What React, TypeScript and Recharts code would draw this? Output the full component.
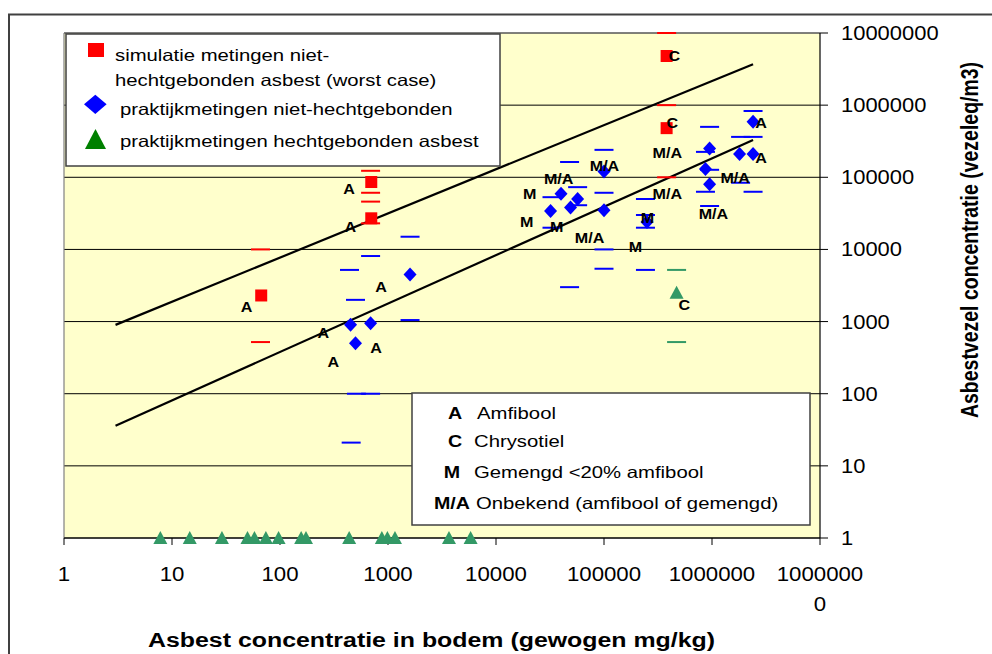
import React from 'react'
import {
    CartesianGrid,
    ReferenceLine,
    Scatter,
    ScatterChart,
    XAxis,
    YAxis,
} from 'recharts'

const FONT = '"Liberation Sans", Arial, sans-serif'

const decadeTicks = [1, 10, 100, 1000, 10000, 100000, 1000000, 10000000]

// simulatie metingen niet-hechtgebonden asbest (worst case)
const simulatie = [
    { x: 67, y: 2300 },
    { x: 700, y: 86000 },
    { x: 700, y: 27000 },
    { x: 380000, y: 4800000 },
    { x: 380000, y: 480000 },
]
const simulatieRange = [
    { x: 66, y: 10000 },
    { x: 66, y: 520 },
    { x: 690, y: 123000 },
    { x: 690, y: 61000 },
    { x: 690, y: 46000 },
    { x: 690, y: 23000 },
    { x: 380000, y: 10000000 },
    { x: 380000, y: 1000000 },
    { x: 380000, y: 100000 },
]

// praktijkmetingen niet-hechtgebonden
const praktijkNiet = [
    { x: 450, y: 900 },
    { x: 690, y: 950 },
    { x: 500, y: 500 },
    { x: 1600, y: 4500 },
    { x: 40000, y: 59000 },
    { x: 32000, y: 34000 },
    { x: 49000, y: 38000 },
    { x: 57000, y: 50000 },
    { x: 100000, y: 120000 },
    { x: 100000, y: 35000 },
    { x: 250000, y: 24000 },
    { x: 950000, y: 250000 },
    { x: 870000, y: 130000 },
    { x: 950000, y: 80000 },
    { x: 2400000, y: 590000 },
    { x: 1800000, y: 210000 },
    { x: 2400000, y: 210000 },
]
const praktijkNietRange = [
    { x: 440, y: 5200 },
    { x: 500, y: 2000 },
    { x: 690, y: 8100 },
    { x: 510, y: 100 },
    { x: 690, y: 100 },
    { x: 456, y: 21 },
    { x: 1600, y: 15000 },
    { x: 1600, y: 1050 },
    { x: 48000, y: 163000 },
    { x: 48000, y: 3000 },
    { x: 33000, y: 53000 },
    { x: 33000, y: 20000 },
    { x: 57000, y: 73000 },
    { x: 57000, y: 41000 },
    { x: 100000, y: 240000 },
    { x: 100000, y: 61000 },
    { x: 100000, y: 10000 },
    { x: 100000, y: 5400 },
    { x: 242000, y: 50000 },
    { x: 242000, y: 30000 },
    { x: 242000, y: 20000 },
    { x: 242000, y: 5200 },
    { x: 870000, y: 225000 },
    { x: 870000, y: 63000 },
    { x: 950000, y: 500000 },
    { x: 950000, y: 127000 },
    { x: 950000, y: 40000 },
    { x: 2400000, y: 830000 },
    { x: 2400000, y: 363000 },
    { x: 2400000, y: 63000 },
    { x: 1840000, y: 363000 },
    { x: 1840000, y: 84000 },
]

// praktijkmetingen hechtgebonden asbest
const hechtgebonden = [
    { x: 7.8, y: 1 },
    { x: 14.6, y: 1 },
    { x: 29, y: 1 },
    { x: 50, y: 1 },
    { x: 58, y: 1 },
    { x: 74, y: 1 },
    { x: 97, y: 1 },
    { x: 157, y: 1 },
    { x: 174, y: 1 },
    { x: 437, y: 1 },
    { x: 877, y: 1 },
    { x: 987, y: 1 },
    { x: 1160, y: 1 },
    { x: 3670, y: 1 },
    { x: 5820, y: 1 },
    { x: 470000, y: 2500 },
]
const hechtRange = [
    { x: 470000, y: 5200 },
    { x: 470000, y: 520 },
]

// trendlijnen
const upperTrend = [
    { x: 3, y: 900 },
    { x: 2400000, y: 3700000 },
]
const lowerTrend = [
    { x: 3, y: 36 },
    { x: 2400000, y: 330000 },
]

// type asbest bij de punten
const typeLabels = [
    { x: 437, y: 69000, t: 'A' },
    { x: 447, y: 20600, t: 'A' },
    { x: 49, y: 1600, t: 'A' },
    { x: 864, y: 3000, t: 'A' },
    { x: 252, y: 700, t: 'A' },
    { x: 776, y: 434, t: 'A' },
    { x: 311, y: 277, t: 'A' },
    { x: 38000, y: 95000, t: 'M/A' },
    { x: 20500, y: 59000, t: 'M' },
    { x: 19200, y: 24000, t: 'M' },
    { x: 36400, y: 20600, t: 'M' },
    { x: 101000, y: 144000, t: 'M/A' },
    { x: 73500, y: 14500, t: 'M/A' },
    { x: 252000, y: 27400, t: 'M' },
    { x: 196000, y: 10900, t: 'M' },
    { x: 386000, y: 218000, t: 'M/A' },
    { x: 386000, y: 59000, t: 'M/A' },
    { x: 448000, y: 4800000, t: 'C' },
    { x: 430000, y: 567000, t: 'C' },
    { x: 2850000, y: 567000, t: 'A' },
    { x: 2850000, y: 186000, t: 'A' },
    { x: 1640000, y: 98000, t: 'M/A' },
    { x: 1030000, y: 31100, t: 'M/A' },
    { x: 554000, y: 1710, t: 'C' },
]

const legendTypes = [
    { code: 'A', text: 'Amfibool' },
    { code: 'C', text: 'Chrysotiel' },
    { code: 'M', text: 'Gemengd <20% amfibool' },
    { code: 'M/A', text: 'Onbekend (amfibool of gemengd)' },
]

const Square = ({ cx, cy }: any) => (
    <rect x={cx - 6} y={cy - 6} width={12} height={12} fill="#FF0000" />
)

const Diamond = ({ cx, cy }: any) => (
    <polygon
        points={`${cx},${cy - 7} ${cx + 6.5},${cy} ${cx},${cy + 7} ${cx - 6.5},${cy}`}
        fill="#0000FF"
    />
)

const Triangle = ({ cx, cy }: any) => (
    <polygon
        points={`${cx},${cy - 7} ${cx + 7},${cy + 6} ${cx - 7},${cy + 6}`}
        fill="#339966"
    />
)

const dash = (color: string) => ({ cx, cy }: any) => (
    <line x1={cx - 9.5} x2={cx + 9.5} y1={cy} y2={cy} stroke={color} strokeWidth={2} />
)

const Nothing = () => <g />

const TypeLabel = ({ cx, cy, payload }: any) => (
    <text
        transform={`translate(${cx},${cy}) scale(1.15,1)`}
        textAnchor="middle"
        dominantBaseline="central"
        fontFamily={FONT}
        fontWeight="bold"
        fontSize={14}
        fill="#000"
    >
        {payload.t}
    </text>
)

const XTick = ({ x, y, payload }: any) => {
    const s = String(payload.value)
    const lines = s.length > 7 ? [s.slice(0, 7), s.slice(7)] : [s]
    return (
        <g>
            {lines.map((l, i) => (
                <text
                    key={i}
                    transform={`translate(${x},${y + 36 + i * 30}) scale(1.14,1)`}
                    textAnchor="middle"
                    fontFamily={FONT}
                    fontSize={19.5}
                    fill="#000"
                >
                    {l}
                </text>
            ))}
        </g>
    )
}

const YTick = ({ x, y, payload }: any) => (
    <text
        transform={`translate(${x},${y}) scale(1.125,1)`}
        dy="0.36em"
        textAnchor="start"
        fontFamily={FONT}
        fontSize={19.5}
        fill="#000"
    >
        {payload.value}
    </text>
)

const SText = ({ x, y, size = 16.5, sx = 1.23, bold = false, anchor = 'start', children }: any) => (
    <text
        transform={`translate(${x},${y}) scale(${sx},1)`}
        fontFamily={FONT}
        fontSize={size}
        fontWeight={bold ? 'bold' : 'normal'}
        textAnchor={anchor}
        fill="#000"
    >
        {children}
    </text>
)

const legend2Rows = [
    { cx: 455, by: 419 },
    { cx: 455, by: 447 },
    { cx: 452, by: 478 },
    { cx: 452, by: 509 },
]
const legend2TextX = [477, 474, 474, 476]

const AsbestChart = () => {
    return (
        <div style={{ position: 'absolute', left: 0, top: 0, width: 992, height: 654, background: '#fff' }}>
            <ScatterChart
                width={992}
                height={654}
                margin={{ top: 33, right: 0, bottom: 56, left: 64 }}
            >
                <CartesianGrid vertical={false} stroke="#000" strokeWidth={1} fill="#FFFFCC" fillOpacity={1} />
                <XAxis
                    dataKey="x"
                    type="number"
                    scale="log"
                    domain={[1, 10000000]}
                    ticks={decadeTicks}
                    interval={0}
                    height={60}
                    tickSize={7}
                    tickMargin={0}
                    axisLine={{ stroke: '#000', strokeWidth: 1.2 }}
                    tickLine={{ stroke: '#000' }}
                    tick={<XTick />}
                />
                <YAxis
                    dataKey="y"
                    type="number"
                    scale="log"
                    orientation="right"
                    domain={[1, 10000000]}
                    ticks={decadeTicks}
                    interval={0}
                    width={172}
                    tickSize={8}
                    tickMargin={13}
                    axisLine={{ stroke: '#000', strokeWidth: 1.2 }}
                    tickLine={{ stroke: '#000' }}
                    tick={<YTick />}
                />
                <ReferenceLine y={10000000} stroke="#808080" strokeWidth={1.2} />
                <ReferenceLine x={1} stroke="#808080" strokeWidth={1.2} />
                <Scatter data={upperTrend} line={{ stroke: '#000', strokeWidth: 2.2 }} shape={<Nothing />} isAnimationActive={false} />
                <Scatter data={lowerTrend} line={{ stroke: '#000', strokeWidth: 2.2 }} shape={<Nothing />} isAnimationActive={false} />
                <Scatter data={simulatieRange} shape={dash('#FF0000')} isAnimationActive={false} />
                <Scatter data={praktijkNietRange} shape={dash('#0000FF')} isAnimationActive={false} />
                <Scatter data={hechtRange} shape={dash('#339966')} isAnimationActive={false} />
                <Scatter data={simulatie} shape={<Square />} isAnimationActive={false} />
                <Scatter data={praktijkNiet} shape={<Diamond />} isAnimationActive={false} />
                <Scatter data={hechtgebonden} shape={<Triangle />} isAnimationActive={false} />
                <Scatter data={typeLabels} shape={<TypeLabel />} isAnimationActive={false} />
            </ScatterChart>
            <svg
                width={992}
                height={654}
                style={{ position: 'absolute', left: 0, top: 0, pointerEvents: 'none' }}
            >
                <path d="M9,654 L9,14.5 L992,14.5" fill="none" stroke="#404040" strokeWidth={2} />

                <rect x={66} y={34} width={434} height={132} fill="#fff" stroke="#404040" strokeWidth={1.5} />
                <rect x={88} y={43} width={16} height={14} fill="#FF0000" />
                <SText x={115} y={61}>simulatie metingen niet-</SText>
                <SText x={115} y={86}>hechtgebonden asbest (worst case)</SText>
                <polygon points="95.3,94.7 106.6,104.3 95.3,114 84,104.3" fill="#0000FF" />
                <SText x={120} y={115}>praktijkmetingen niet-hechtgebonden</SText>
                <polygon points="95.5,129 106,149 85,149" fill="#008000" />
                <SText x={120} y={147}>praktijkmetingen hechtgebonden asbest</SText>

                <rect x={412} y={393} width={398} height={132} fill="#fff" stroke="#404040" strokeWidth={1.5} />
                {legendTypes.map((r, i) => (
                    <g key={r.code}>
                        <SText x={legend2Rows[i].cx} y={legend2Rows[i].by} bold anchor="middle" sx={1.19}>
                            {r.code}
                        </SText>
                        <SText x={legend2TextX[i]} y={legend2Rows[i].by}>{r.text}</SText>
                    </g>
                ))}

                <SText x={148} y={647} size={20.5} sx={1.215} bold>
                    Asbest concentratie in bodem (gewogen mg/kg)
                </SText>
                <text
                    transform="translate(978,240) rotate(-90) scale(1,1.2)"
                    textAnchor="middle"
                    fontFamily={FONT}
                    fontSize={19.5}
                    fontWeight="bold"
                    fill="#000"
                >
                    Asbestvezel concentratie (vezeleq/m3)
                </text>
            </svg>
        </div>
    )
}

export default AsbestChart
